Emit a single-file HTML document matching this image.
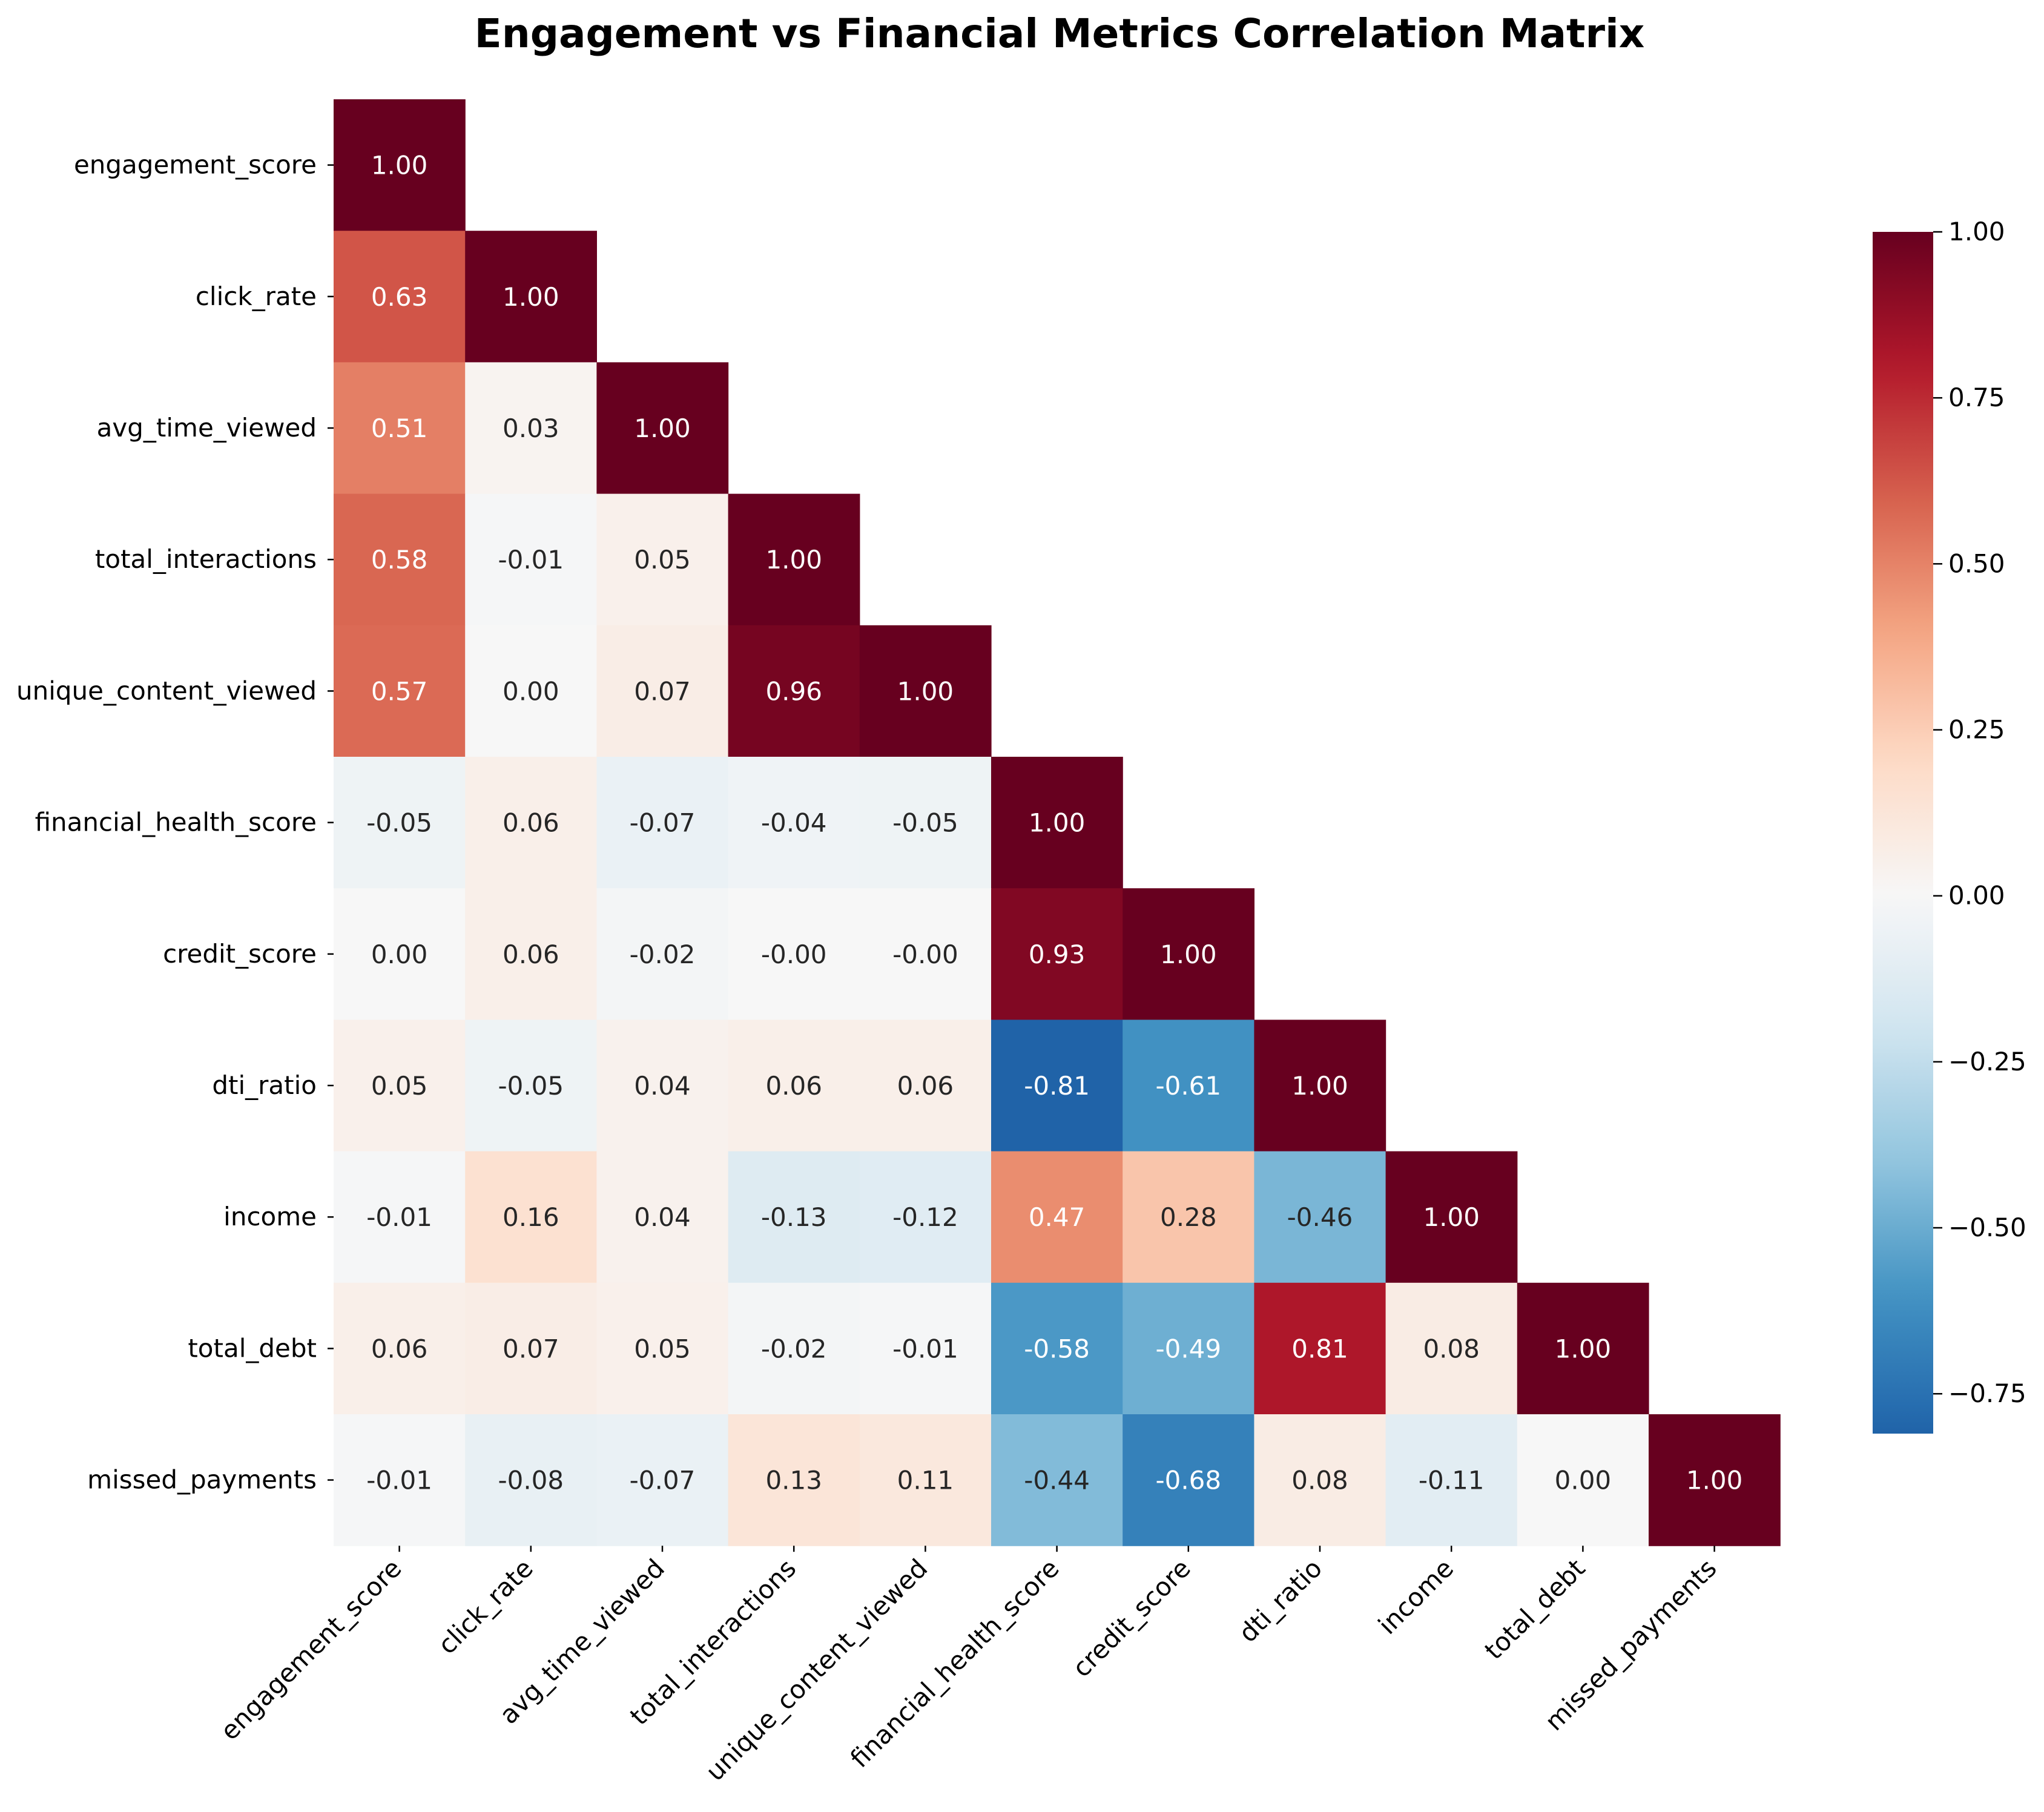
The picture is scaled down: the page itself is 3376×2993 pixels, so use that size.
<!DOCTYPE html>
<html><head><meta charset="utf-8"><style>
html,body{margin:0;padding:0;background:#fff;}
svg{display:block;font-family:"DejaVu Sans","Liberation Sans",sans-serif;}
</style></head><body>
<svg id="chart" width="3376" height="2993" viewBox="0 0 3376 2993">
<text x="1750" y="78" text-anchor="middle" font-size="66" font-weight="bold">Engagement vs Financial Metrics Correlation Matrix</text>
<g id="cells"></g><g id="axes"></g><g id="cbar"></g>
</svg>
<script>
const labels = ["engagement_score","click_rate","avg_time_viewed","total_interactions","unique_content_viewed","financial_health_score","credit_score","dti_ratio","income","total_debt","missed_payments"];
const row0 = [1.00];
const row1 = [0.63,1.00];
const row2 = [0.51,0.03,1.00];
const row3 = [0.58,-0.01,0.05,1.00];
const row4 = [0.57,0.00,0.07,0.96,1.00];
const row5 = [-0.05,0.06,-0.07,-0.04,-0.05,1.00];
const row6 = [0.00,0.06,-0.02,-0.001,-0.001,0.93,1.00];
const row7 = [0.05,-0.05,0.04,0.06,0.06,-0.81,-0.61,1.00];
const row8 = [-0.01,0.16,0.04,-0.13,-0.12,0.47,0.28,-0.46,1.00];
const row9 = [0.06,0.07,0.05,-0.02,-0.01,-0.58,-0.49,0.81,0.08,1.00];
const row10 = [-0.01,-0.08,-0.07,0.13,0.11,-0.44,-0.68,0.08,-0.11,0.00,1.00];
const rows = [row0,row1,row2,row3,row4,row5,row6,row7,row8,row9,row10];
const cbTicks = [1.00,0.75,0.50,0.25,0.00,-0.25,-0.50,-0.75];
const vmin = -0.81, vmax = 1.00;

const NS="http://www.w3.org/2000/svg";
const X0=551, Y0=164, CELL=217.2;
const FS=42;
const xPos=i=>X0+i*CELL, yPos=i=>Y0+i*CELL;
const stops=["#053061","#2166ac","#4393c3","#92c5de","#d1e5f0","#f7f7f7","#fddbc7","#f4a582","#d6604d","#b2182b","#67001f"].map(h=>[1,3,5].map(k=>parseInt(h.substr(k,2),16)));
function rgb(v){let t=0.5+v/2;t=Math.max(0,Math.min(1,t))*10;let i=Math.min(9,Math.floor(t)),f=t-i;return stops[i].map((c,k)=>c+(stops[i+1][k]-c)*f);}
function lum(c){const l=c.map(x=>{x/=255;return x<=0.03928?x/12.92:Math.pow((x+0.055)/1.055,2.4)});return 0.2126*l[0]+0.7152*l[1]+0.0722*l[2];}
function el(tag,attrs,parent){const e=document.createElementNS(NS,tag);for(const k in attrs)e.setAttribute(k,attrs[k]);parent.appendChild(e);return e;}
const cells=document.getElementById('cells'),axes=document.getElementById('axes'),cbar=document.getElementById('cbar');
rows.forEach((r,i)=>r.forEach((v,j)=>{
 const c=rgb(v);const col=`rgb(${c.map(Math.round).join(',')})`;
 const rc=el('rect',{x:xPos(j),y:yPos(i),width:CELL+0.6,height:CELL+0.6,fill:col},cells);
 
 
 const t=el('text',{x:xPos(j)+CELL/2,y:yPos(i)+CELL/2+15,'text-anchor':'middle','font-size':FS,fill:lum(c)>0.408?'#262626':'#ffffff'},cells);
 t.textContent=(Math.abs(v)<0.005&&v<0?'-0.00':v.toFixed(2));
 
 
}));
labels.forEach((lab,i)=>{
 const cy=yPos(i)+CELL/2;
 el('line',{x1:X0-10,x2:X0,y1:cy,y2:cy,stroke:'#000','stroke-width':2.5},axes);
 const t=el('text',{x:X0-28,y:cy+14,'text-anchor':'end','font-size':FS},axes);
 t.textContent=lab;
 
 
 const cx=xPos(i)+CELL/2, yb=Y0+11*CELL;
 el('line',{x1:cx,x2:cx,y1:yb,y2:yb+10,stroke:'#000','stroke-width':2.5},axes);
 const tx=el('text',{x:cx+6,y:yb+40,'text-anchor':'end','font-size':FS,transform:`rotate(-45 ${cx+6} ${yb+40})`},axes);
 tx.textContent=lab;
 
 
});
// colorbar
const CBX=3093, CBW=100, CBT=383, CBB=2368;
const cy=v=>CBT+(vmax-v)/(vmax-vmin)*(CBB-CBT);
const defs=el('defs',{},cbar);
const g=el('linearGradient',{id:'cg',x1:0,y1:1,x2:0,y2:0},defs);
for(let k=0;k<=40;k++){const v=vmin+(vmax-vmin)*k/40;const c=rgb(v);el('stop',{offset:k/40,'stop-color':`rgb(${c.map(Math.round).join(',')})`},g);}
const cb=el('rect',{x:CBX,y:CBT,width:CBW,height:CBB-CBT,fill:'url(#cg)'},cbar);


cbTicks.forEach(v=>{
 const y=cy(v);
 el('line',{x1:CBX+CBW,x2:CBX+CBW+15,y1:y,y2:y,stroke:'#000','stroke-width':2.5},cbar);
 const t=el('text',{x:CBX+CBW+25,y:y+14,'font-size':FS},cbar);
 t.textContent=(v<0?'\u2212':'')+Math.abs(v).toFixed(2);
 
 
});
</script>
</body></html>
